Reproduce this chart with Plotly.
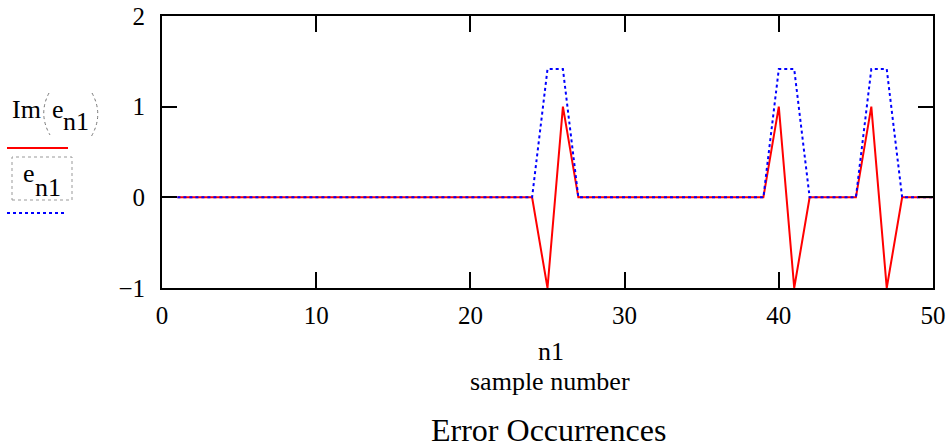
import plotly.graph_objects as go

n1 = list(range(1, 51))
im_vals = [0]*50
abs_vals = [0]*50
for k, v in {25: -1, 26: 1, 40: 1, 41: -1, 46: 1, 47: -1}.items():
    im_vals[k-1] = v
for k in [25, 26, 40, 41, 46, 47]:
    abs_vals[k-1] = 1.41421356

x_ticks = [0, 10, 20, 30, 40, 50]
y_ticks = [-1, 0, 1, 2]
y_tick_text = ["\u22121", "0", "1", "2"]

FONT = "Liberation Serif"
L, R, T, B = 162, 933, 16, 288
W, H = R - L, B - T

def px(x):
    return (x - L) / W

def py(y):
    return (B - y) / H

fig = go.Figure()
fig.add_trace(go.Scatter(x=n1, y=im_vals, mode="lines",
                         line=dict(color="#ff0000", width=2), showlegend=False))
fig.add_trace(go.Scatter(x=n1, y=abs_vals, mode="lines",
                         line=dict(color="#0000ff", width=2, dash="dot"), showlegend=False))

axis_common = dict(showgrid=False, zeroline=False, showline=True, linecolor="black",
                   linewidth=2, mirror="ticks", ticks="inside", tickcolor="black",
                   tickwidth=2, automargin=False, ticklabeloverflow="allow",
                   tickfont=dict(family=FONT, size=25, color="black"))
fig.update_xaxes(range=[0, 50], tickvals=x_ticks, ticklen=16, ticklabelstandoff=4,
                 **axis_common)
fig.update_yaxes(range=[-1, 2], tickvals=y_ticks, ticklen=15, ticklabelstandoff=10,
                 ticktext=y_tick_text, **axis_common)

anns = [
    dict(x=551, y=351, text="n1", size=26),
    dict(x=550, y=381, text="sample number", size=26),
    dict(x=548, y=430, text="Error Occurrences", size=32),
    dict(x=26, y=109, text="Im", size=26),
    dict(x=58, y=109, text="e", size=26),
    dict(x=76, y=122, text="n1", size=26),
    dict(x=29, y=174, text="e", size=26),
    dict(x=48, y=187, text="n1", size=26),
]
for a in anns:
    fig.add_annotation(x=px(a["x"]), y=py(a["y"]), xref="paper", yref="paper", text=a["text"],
                       showarrow=False, xanchor="center", yanchor="middle",
                       font=dict(family=FONT, size=a["size"], color="black"))

shapes = [
    dict(type="line", x0=px(7), x1=px(68), y0=py(148), y1=py(148),
         line=dict(color="#ff0000", width=2)),
    dict(type="line", x0=px(7), x1=px(67), y0=py(213), y1=py(213),
         line=dict(color="#0000ff", width=2, dash="dot")),
    dict(type="rect", x0=px(12), x1=px(72), y0=py(200), y1=py(157),
         line=dict(color="#999999", width=1, dash="dot")),
    dict(type="path", path=f"M {px(49)} {py(93)} Q {px(38)} {py(114)} {px(50)} {py(135)}",
         line=dict(color="#777777", width=1, dash="dot")),
    dict(type="path", path=f"M {px(92)} {py(93)} Q {px(104)} {py(115)} {px(91)} {py(137)}",
         line=dict(color="#777777", width=1, dash="dot")),
]
for s in shapes:
    s.update(xref="paper", yref="paper")
    fig.add_shape(**s)

fig.update_layout(width=952, height=447, plot_bgcolor="white", paper_bgcolor="white",
                  margin=dict(l=L, r=952 - R, t=T, b=447 - B, pad=0))
fig.write_html("out.html")
